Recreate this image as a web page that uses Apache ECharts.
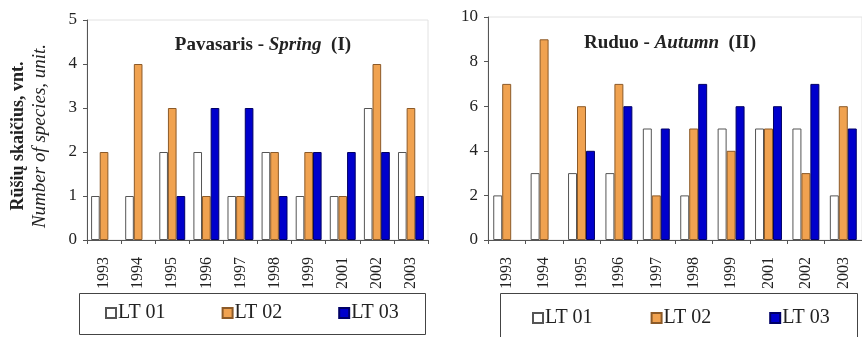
<!DOCTYPE html>
<html>
<head>
<meta charset="utf-8">
<script src="https://cdn.jsdelivr.net/npm/echarts@6/dist/echarts.min.js"></script>
<style>
  html, body { margin: 0; padding: 0; background: #fff; }
  #chart { width: 862px; height: 337px; }
</style>
</head>
<body>
<div id="chart"></div>
<script>
// Observation years (2000 was not sampled)
const years = ['1993', '1994', '1995', '1996', '1997', '1998', '1999', '2001', '2002', '2003'];

// Number of species per station, spring survey (I)
const springLT01 = [1, 1, 2, 2, 1, 2, 1, 1, 3, 2];
const springLT02 = [2, 4, 3, 1, 1, 2, 2, 1, 4, 3];
const springLT03 = [0, 0, 1, 3, 3, 1, 2, 2, 2, 1];

// Number of species per station, autumn survey (II)
const autumnLT01 = [2, 3, 3, 3, 5, 2, 5, 5, 5, 2];
const autumnLT02 = [7, 9, 6, 7, 2, 5, 4, 5, 3, 6];
const autumnLT03 = [0, 0, 4, 6, 5, 7, 6, 6, 7, 5];

const stationNames = ['LT 01', 'LT 02', 'LT 03'];

const FONT = '"Liberation Serif", "Times New Roman", serif';

const stationStyles = [
  { color: '#ffffff', borderColor: '#555555', borderWidth: 1 },
  { color: '#f0a250', borderColor: '#8c5a28', borderWidth: 1 },
  { color: '#0000cc', borderColor: '#000066', borderWidth: 1 }
];

// zero counts get no outline so nothing is drawn on the axis
function toBarData(arr) {
  return arr.map(v => (v === 0 ? { value: 0, itemStyle: { borderWidth: 0, opacity: 0 } } : v));
}

function makeSeries(gridIdx, values) {
  return values.map((arr, i) => ({
    name: stationNames[i],
    type: 'bar',
    xAxisIndex: gridIdx,
    yAxisIndex: gridIdx,
    data: toBarData(arr),
    barGap: '0%',
    barCategoryGap: gridIdx === 0 ? '24%' : '28%',
    itemStyle: stationStyles[i],
    emphasis: { disabled: true },
    animation: false
  }));
}

function xAxisFor(gridIdx) {
  return {
    type: 'category',
    gridIndex: gridIdx,
    data: years,
    axisLine: { lineStyle: { color: '#555', width: 1 } },
    axisTick: { show: true, interval: 0, alignWithLabel: false, length: 4, lineStyle: { color: '#555' } },
    axisLabel: { interval: 0, rotate: 90, margin: 17, fontFamily: FONT, fontSize: 16, color: '#222' }
  };
}

function yAxisFor(gridIdx, max, interval) {
  return {
    type: 'value',
    gridIndex: gridIdx,
    min: 0,
    max: max,
    interval: interval,
    splitLine: { show: false },
    axisLine: { show: true, lineStyle: { color: '#555', width: 1 } },
    axisTick: { show: true, length: 4, lineStyle: { color: '#555' } },
    axisLabel: { margin: 10, fontFamily: FONT, fontSize: 17, color: '#222' }
  };
}

const chart = echarts.init(document.getElementById('chart'), null, { renderer: 'canvas' });

const leftY = yAxisFor(0, 5, 1);
leftY.name = '{b|Rūšių skaičius, vnt.}\n{i|Number of species, unit.}';
leftY.nameLocation = 'middle';
leftY.nameRotate = 90;
leftY.nameGap = 37;
leftY.nameTextStyle = {
  fontFamily: FONT,
  lineHeight: 21,
  padding: [0, 12, 0, 0],
  rich: {
    b: { fontFamily: FONT, fontWeight: 'bold', fontSize: 18, color: '#222', lineHeight: 21 },
    i: { fontFamily: FONT, fontStyle: 'italic', fontSize: 19, color: '#222', lineHeight: 21 }
  }
};

const titleRich = {
  b: { fontFamily: FONT, fontWeight: 'bold', fontSize: 19, color: '#222' },
  i: { fontFamily: FONT, fontStyle: 'italic', fontSize: 19, color: '#222' }
};

const legendText = { fontFamily: FONT, fontSize: 20, color: '#222', padding: [0, 0, 0, -3] };

chart.setOption({
  backgroundColor: '#ffffff',
  animation: false,
  title: [
    {
      text: '{b|Pavasaris - }{i|Spring}{b|  (I)}',
      left: 258, top: 31, textAlign: 'center',
      textStyle: { rich: titleRich }
    },
    {
      text: '{b|Ruduo - }{i|Autumn}{b|  (II)}',
      left: 665, top: 29, textAlign: 'center',
      textStyle: { rich: titleRich }
    }
  ],
  grid: [
    { left: 87, top: 20, right: 434, bottom: 97, show: true, borderColor: '#e2e2e2', borderWidth: 1, backgroundColor: 'transparent' },
    { left: 488, top: 17, right: -6, bottom: 97, show: true, borderColor: '#e2e2e2', borderWidth: 1, backgroundColor: 'transparent' }
  ],
  xAxis: [xAxisFor(0), xAxisFor(1)],
  yAxis: [leftY, yAxisFor(1, 10, 2)],
  legend: [
    {
      data: stationNames, left: 105, top: 303, padding: 0, orient: 'horizontal',
      itemWidth: 10, itemHeight: 10, itemGap: 56, selectedMode: false,
      icon: 'rect', textStyle: legendText
    },
    {
      data: stationNames, left: 532, top: 308, padding: 0, orient: 'horizontal',
      itemWidth: 10, itemHeight: 10, itemGap: 58, selectedMode: false,
      icon: 'rect', textStyle: legendText
    }
  ],
  graphic: [
    { type: 'rect', shape: { x: 79.5, y: 293.5, width: 346, height: 41 }, style: { fill: 'none', stroke: '#444', lineWidth: 1 }, silent: true },
    { type: 'rect', shape: { x: 500.5, y: 293.5, width: 357, height: 50 }, style: { fill: 'none', stroke: '#444', lineWidth: 1 }, silent: true }
  ],
  series: [
    ...makeSeries(0, [springLT01, springLT02, springLT03]),
    ...makeSeries(1, [autumnLT01, autumnLT02, autumnLT03])
  ]
});
</script>
</body>
</html>
